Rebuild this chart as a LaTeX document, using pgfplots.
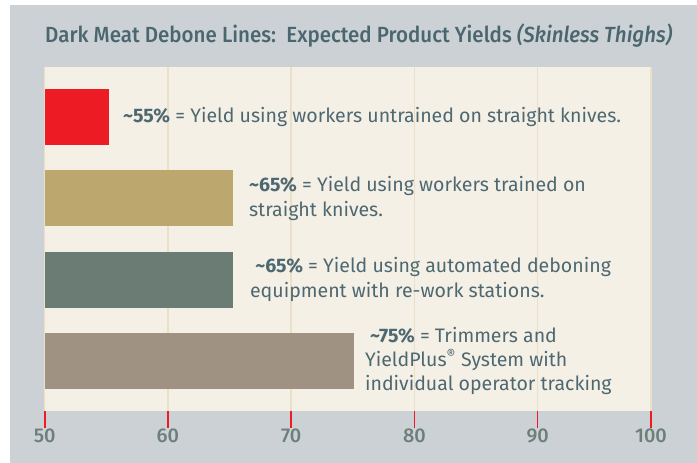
\documentclass[border=0pt]{standalone}
\usepackage{pgfplots}
\pgfplotsset{compat=1.18}
\usepackage{fontspec}
\setmainfont{Fira Sans}
\newfontfamily\medfont{Fira Sans Medium}
\usepackage{graphicx}
\definecolor{bggray}{HTML}{CCD1D5}
\definecolor{cream}{HTML}{F5F0E6}
\definecolor{gridcol}{HTML}{EADFC8}
\definecolor{redc}{HTML}{ED1C24}
\definecolor{tanc}{HTML}{BCA86E}
\definecolor{dkc}{HTML}{6B7C74}
\definecolor{brc}{HTML}{A09282}
\definecolor{textcol}{HTML}{4E6872}
\definecolor{ticklab}{HTML}{6E7F7A}
\definecolor{titlecol}{HTML}{4A666E}
\begin{document}
\begin{tikzpicture}[x=1bp,y=1bp]
\fill[white] (0,0) rectangle (697,463);
\fill[bggray] (10,0) rectangle (697,458);
\node[anchor=base west, inner sep=0, text=titlecol, font=\medfont\fontsize{22}{26}\selectfont] at (45,420) {\resizebox{627bp}{\height}{Dark Meat Debone Lines:\ \ Expected Product Yields \textit{(Skinless Thighs)}}};
\begin{axis}[
  at={(44.7bp,52bp)}, anchor=south west,
  scale only axis, width=606.3bp, height=344bp,
  xmin=50, xmax=99.2, ymin=0.385, ymax=4.615,
  xtick={50,60,70,80,90,99.2}, xticklabels={50,60,70,80,90,100},
  ytick=\empty,
  xmajorgrids, grid style={draw=gridcol, line width=1.5bp},
  axis line style={draw=none},
  tick align=outside, xtick pos=left,
  major tick length=17bp,
  major tick style={draw=redc, line width=1.6bp},
  /pgf/number format/assume math mode=true,
  xticklabel style={text=ticklab, font=\medfont\fontsize{20}{20}\selectfont, inner sep=1bp},
  axis background/.style={fill=cream},
  xbar, bar width=0.689, bar shift=0pt,
  clip=true,
]
\addplot[fill=redc, draw=none] coordinates {(55.2,4)};
\addplot[fill=tanc, draw=none] coordinates {(65.25,3)};
\addplot[fill=dkc, draw=none] coordinates {(65.25,2)};
\addplot[fill=brc, draw=none] coordinates {(75.08,1)};
\end{axis}
\begin{axis}[
  at={(44.7bp,52bp)}, anchor=south west,
  scale only axis, width=606.3bp, height=344bp,
  xmin=50, xmax=99.2, ymin=0.385, ymax=4.615,
  hide axis, clip=false,
]
\addplot[draw=none] coordinates {(50,1)};
\tikzset{lab/.style={anchor=west, align=left, inner sep=0, text=textcol, font=\fontsize{19.6}{24.5}\selectfont}}
\node[lab] at (axis cs:56.35,4) {\textbf{\textasciitilde55\%} = Yield using workers untrained on straight knives.};
\node[lab] at (axis cs:66.57,3) {\textbf{\textasciitilde65\%} = Yield using workers trained on\\straight knives.};
\node[lab] at (axis cs:66.65,2) {\ \textbf{\textasciitilde65\%} = Yield using automated deboning\\equipment with re-work stations.};
\node[lab] at (axis cs:75.98,1) {\ \textbf{\textasciitilde75\%} = Trimmers and\\YieldPlus\textsuperscript{®} System with\\individual operator tracking};
\end{axis}
\end{tikzpicture}
\end{document}
